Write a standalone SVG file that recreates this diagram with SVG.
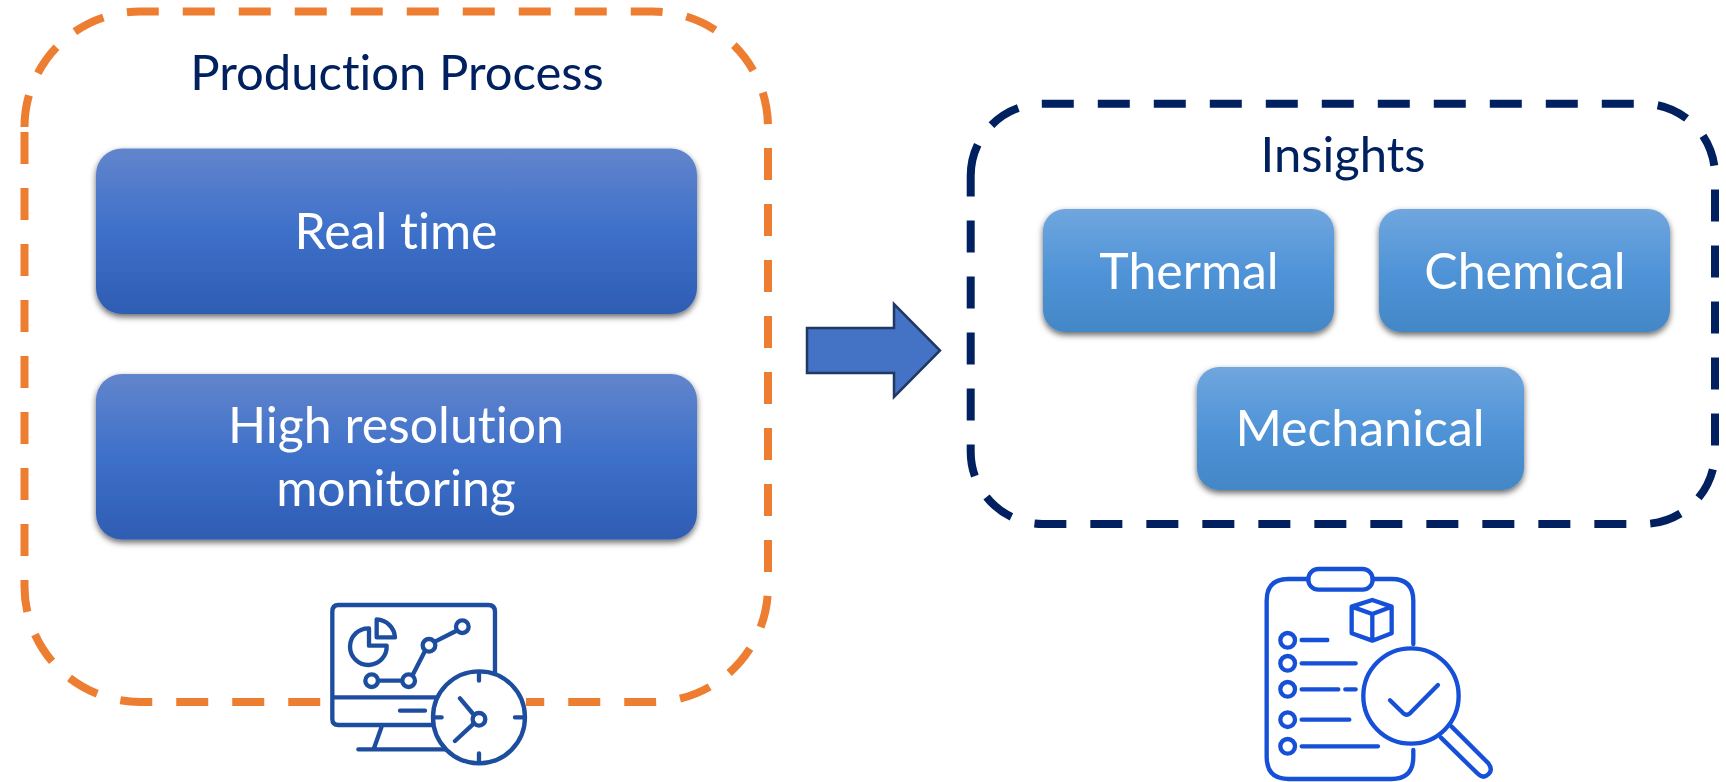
<svg xmlns="http://www.w3.org/2000/svg" width="1726" height="782" viewBox="0 0 1726 782">
<style>
text{font-family:"Lato","Open Sans","Liberation Sans",sans-serif;text-anchor:middle;font-variant-ligatures:none}
.h{fill:#002060;font-size:49px}
.w{fill:#fff;font-size:50px}
.i1{fill:none;stroke:#1f4e9f;stroke-width:13;stroke-linecap:round;stroke-linejoin:round}
.i2{fill:none;stroke:#1450d8;stroke-width:13;stroke-linecap:round;stroke-linejoin:round}
.d{fill:none;stroke-width:8;stroke-dasharray:32 24}
</style>
<defs>
<linearGradient id="gb" x1="0" y1="0" x2="0" y2="1"><stop offset="0" stop-color="#6285cc"/><stop offset=".5" stop-color="#3e70c9"/><stop offset="1" stop-color="#2e5db3"/></linearGradient>
<linearGradient id="gl" x1="0" y1="0" x2="0" y2="1"><stop offset="0" stop-color="#70a6de"/><stop offset=".5" stop-color="#5094d8"/><stop offset="1" stop-color="#4387c6"/></linearGradient>
<filter id="sh" x="-5%" y="-10%" width="110%" height="125%"><feDropShadow dx="0" dy="3" stdDeviation="3" flood-color="#000" flood-opacity=".6"/></filter>
<filter id="bl"><feGaussianBlur stdDeviation="1.5"/></filter>
<filter id="bl2"><feGaussianBlur stdDeviation="1"/></filter>
</defs>
<g id="production-process">
<path class="d" stroke="#ed7d31" d="M24.500 127A115.500 115.500 0 0 1 140 11.500H652.500A115.500 115.500 0 0 1 768 127V586.500A115.500 115.500 0 0 1 652.500 702H140A115.500 115.500 0 0 1 24.500 586.500Z"/>
<text class="h" x="397" y="90">Production Process</text>
</g>
<g id="real-time">
<rect x="96" y="148.500" width="601" height="165.500" rx="26" fill="url(#gb)" filter="url(#sh)"/>
<text class="w" x="396" y="249">Real time</text>
</g>
<g id="high-resolution">
<rect x="96" y="374" width="601" height="165.500" rx="26" fill="url(#gb)" filter="url(#sh)"/>
<text class="w" x="396" y="443">High resolution</text>
<text class="w" x="396" y="506">monitoring</text>
</g>
<g id="insights">
<path class="d" stroke="#002060" d="M970.700 175.700A72 72 0 0 1 1042.700 103.700H1643A72 72 0 0 1 1715 175.700V452A72 72 0 0 1 1643 524H1042.700A72 72 0 0 1 970.700 452Z"/>
<text class="h" x="1343" y="172">Insights</text>
</g>
<g id="thermal">
<rect x="1043" y="209" width="291" height="123" rx="22" fill="url(#gl)" filter="url(#sh)"/>
<text class="w" x="1189" y="289">Thermal</text>
</g>
<g id="chemical">
<rect x="1379" y="209" width="291" height="123" rx="22" fill="url(#gl)" filter="url(#sh)"/>
<text class="w" x="1525" y="289">Chemical</text>
</g>
<g id="mechanical">
<rect x="1197" y="367" width="327" height="123" rx="22" fill="url(#gl)" filter="url(#sh)"/>
<text class="w" x="1360" y="446">Mechanical</text>
</g>
<g id="connectors">
<path d="M807 328H894V304L940 350.500L894 397V373H807Z" fill="#4472c4" stroke="#1f3864" stroke-width="2.500"/>
</g>
<g id="monitor-icon" transform="translate(300 580) scale(.3333)">
<rect x="66" y="340" width="612" height="60" fill="#fff"/>
<g filter="url(#bl)">
<path class="i1" d="M115 75H565Q585 75 585 95V280M410 435H115Q97 435 97 417V95Q97 75 115 75M97 352H410M300 392H375M245 440L222 505M175 508H440"/>
<path class="i1" d="M207 145A55 55 0 1 0 260 197H207ZM230 118A58 58 0 0 1 285 172H230Z"/>
<path class="i1" d="M234 302H305M338 285L375 213M405 185L468 153"/>
<circle class="i1" cx="215" cy="302" r="19"/><circle class="i1" cx="326" cy="302" r="19"/><circle class="i1" cx="387" cy="196" r="19"/><circle class="i1" cx="487" cy="140" r="19"/>
<circle class="i1" cx="537" cy="412" r="138" style="fill:#fff"/>
<circle class="i1" cx="537" cy="418" r="19"/>
<path class="i1" d="M537 282V302M537 520V545M400 412H425M645 412H672M522 405L480 355M522 430L465 483"/>
</g>
</g>
<g id="clipboard-icon" transform="translate(1240 550) scale(.3333)">
<g filter="url(#bl2)">
<path class="i2" d="M205 87H145Q80 87 80 152V620Q80 687 145 687H455Q520 687 520 620V600M520 282V152Q520 87 455 87H398"/>
<rect class="i2" x="205" y="57" width="193" height="62" rx="30"/>
<path class="i2" d="M397 150L455 170V250L397 272L335 250V170ZM335 170L397 192L455 170M397 192V272"/>
<circle class="i2" cx="143" cy="271" r="22"/><circle class="i2" cx="143" cy="340" r="22"/><circle class="i2" cx="143" cy="418" r="22"/><circle class="i2" cx="143" cy="509" r="22"/><circle class="i2" cx="143" cy="589" r="22"/>
<path class="i2" d="M185 270H262M185 340H347M185 418H295M316 418H347M185 509H328M185 589H414"/>
<circle class="i2" cx="513" cy="438" r="143"/>
<path class="i2" d="M450 451L490 490Q500 498 510 490L594 405"/>
<path class="i2" d="M635 530L745 640Q760 660 745 673Q730 688 712 670L603 563"/>
</g>
</g>
</svg>
